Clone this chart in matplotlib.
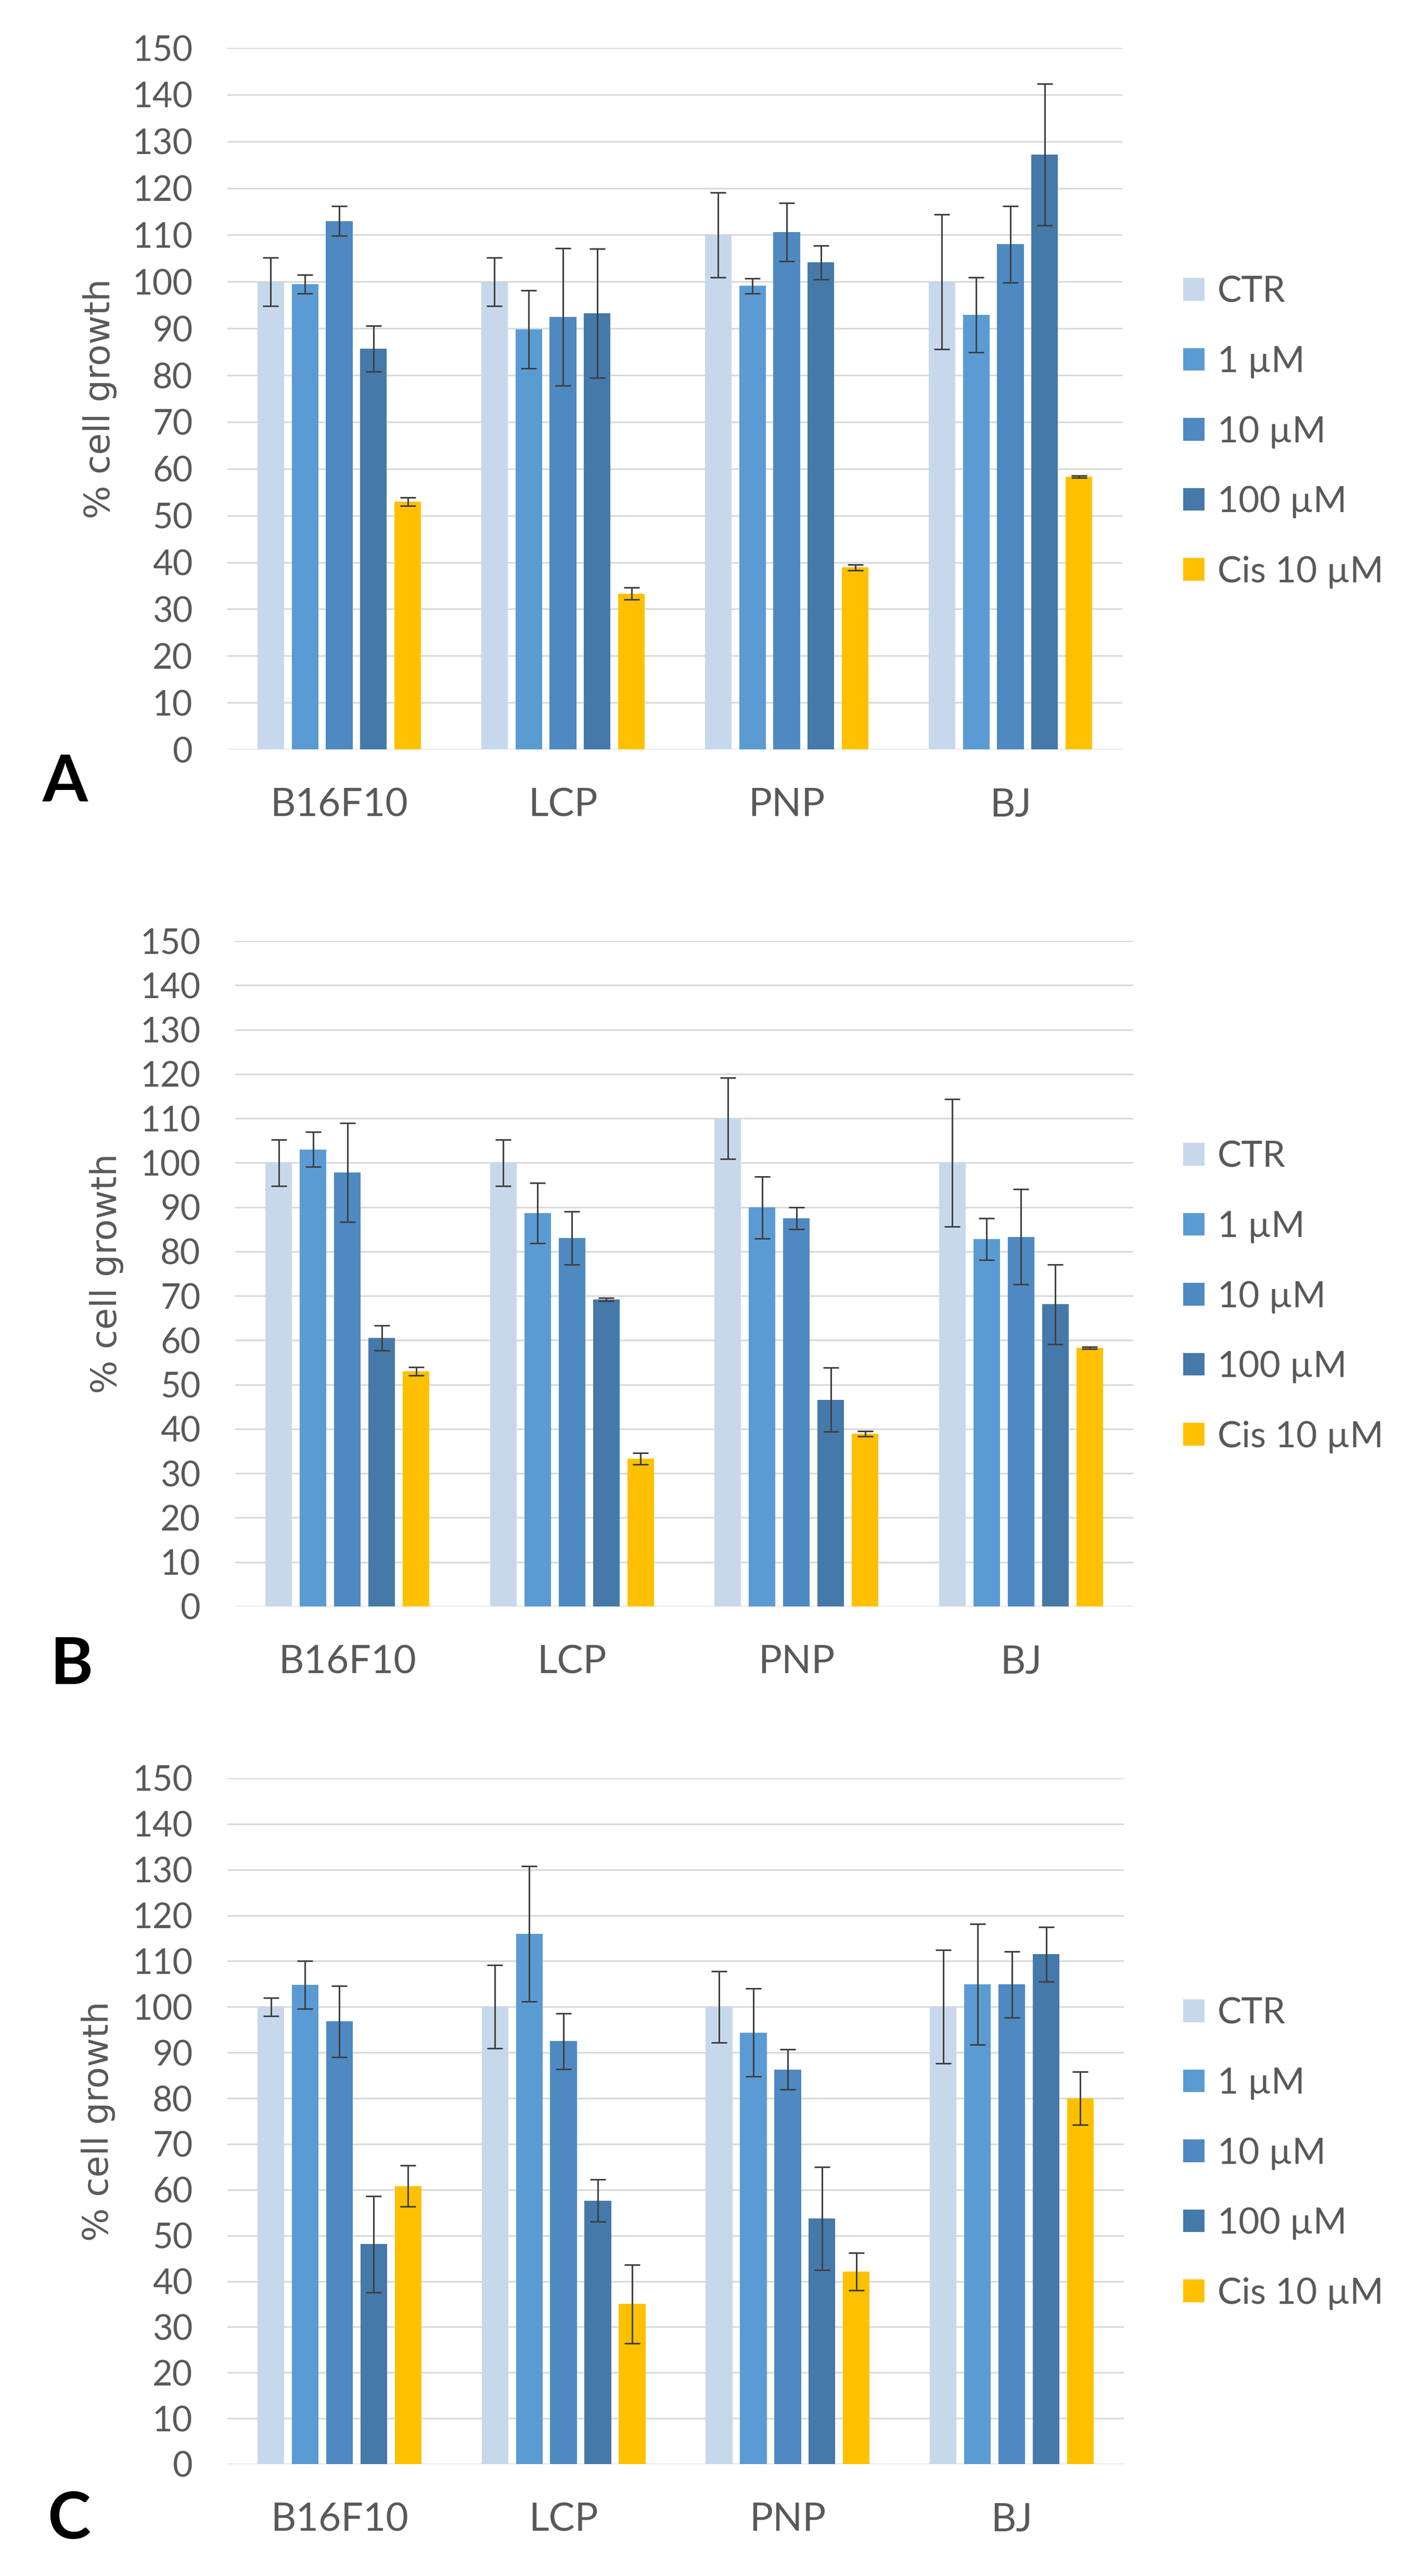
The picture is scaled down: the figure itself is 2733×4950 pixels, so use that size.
import numpy as np
import matplotlib
matplotlib.use("Agg")
import matplotlib.pyplot as plt
from matplotlib.patches import Patch

plt.rcParams['font.family'] = ['Lato', 'DejaVu Sans']

# categories / series
cells = ["B16F10", "LCP", "PNP", "BJ"]
series = ["CTR", "1 µM", "10 µM", "100 µM", "Cis 10 µM"]
colors = ["#c8d8ec", "#5b9bd3", "#4f89c1", "#4579a9", "#ffc000"]

# shared control / cisplatin (panels A and B)
ctr_ab = [100.0, 100.0, 110.0, 100.0]
ctr_ab_err = [5.2, 5.2, 9.1, 14.4]
cis_ab = [53.0, 33.3, 38.9, 58.3]
cis_ab_err = [0.9, 1.3, 0.6, 0.2]

# panel A
a_1um = [99.5, 89.8, 99.1, 92.9]
a_1um_err = [2.0, 8.3, 1.6, 8.0]
a_10um = [113.0, 92.5, 110.6, 108.0]
a_10um_err = [3.2, 14.7, 6.2, 8.2]
a_100um = [85.7, 93.2, 104.1, 127.2]
a_100um_err = [4.9, 13.8, 3.6, 15.1]

# panel B
b_1um = [103.0, 88.7, 89.9, 82.8]
b_1um_err = [3.9, 6.8, 7.0, 4.7]
b_10um = [97.8, 83.0, 87.5, 83.3]
b_10um_err = [11.1, 6.0, 2.5, 10.7]
b_100um = [60.5, 69.2, 46.6, 68.1]
b_100um_err = [2.8, 0.4, 7.2, 9.0]

# panel C
c_ctr = [100.0, 100.0, 100.0, 100.0]
c_ctr_err = [2.0, 9.1, 7.8, 12.4]
c_1um = [104.8, 116.0, 94.4, 104.9]
c_1um_err = [5.2, 14.8, 9.6, 13.2]
c_10um = [96.8, 92.5, 86.3, 104.9]
c_10um_err = [7.8, 6.1, 4.4, 7.2]
c_100um = [48.1, 57.6, 53.7, 111.5]
c_100um_err = [10.5, 4.6, 11.3, 6.0]
c_cis = [60.8, 35.0, 42.1, 80.0]
c_cis_err = [4.5, 8.6, 4.1, 5.8]

yticks = list(range(0, 151, 10))

W, H = 2733, 4950
fig = plt.figure(figsize=(W / 100, H / 100), dpi=100)

# panel boxes in pixels: left, top(150), right, bottom(0); letter pos, ylabel x, legend centre y
panels = [
    ("A", (437, 92, 2157, 1440), [ctr_ab, a_1um, a_10um, a_100um, cis_ab],
     [ctr_ab_err, a_1um_err, a_10um_err, a_100um_err, cis_ab_err], (125, 1504), 192, 830),
    ("B", (452, 1808, 2178, 3087), [ctr_ab, b_1um, b_10um, b_100um, cis_ab],
     [ctr_ab_err, b_1um_err, b_10um_err, b_100um_err, cis_ab_err], (138, 3200), 205, 2492),
    ("C", (437, 3417, 2160, 4735), [c_ctr, c_1um, c_10um, c_100um, c_cis],
     [c_ctr_err, c_1um_err, c_10um_err, c_100um_err, c_cis_err], (133, 4842), 189, 4138),
]

x = np.arange(len(cells))
pitch = 0.153
width = 0.119

for letter, (l, t, r, b), vals, errs, lpos, ylab_x, leg_c in panels:
    ax = fig.add_axes([l / W, 1 - b / H, (r - l) / W, (b - t) / H])
    for j, (v, e) in enumerate(zip(vals, errs)):
        ax.bar(x + (j - 2) * pitch, v, width, color=colors[j], label=series[j],
               zorder=3)
        ax.errorbar(x + (j - 2) * pitch, v, yerr=e, fmt='none', ecolor='#404040',
                    elinewidth=2.2, capsize=11, capthick=2.2, zorder=4)
    ax.set_xlim(-0.5, len(cells) - 0.5)
    ax.set_ylim(0, 150)
    ax.set_yticks(yticks)
    ax.set_xticks(x)
    ax.set_xticklabels(cells)
    ax.grid(axis='y', color='#d9d9d9', linewidth=2.2, zorder=0)
    ax.set_axisbelow(True)
    for s in ax.spines.values():
        s.set_visible(False)
    ax.tick_params(axis='y', length=0, pad=48, labelsize=48, labelcolor='#595959')
    ax.tick_params(axis='x', length=0, pad=52, labelsize=54, labelcolor='#595959')

    # % cell growth label
    fig.text(ylab_x / W, 1 - (t + b) / 2 / H, "% cell growth", rotation=90,
             ha='center', va='center', fontsize=49, color='#595959',
             family=['DejaVu Sans'])

    handles = [Patch(facecolor=c, label=s) for c, s in zip(colors, series)]
    ax.legend(handles=handles, loc='center left',
              bbox_to_anchor=((2274 - l) / (r - l), (b - leg_c) / (b - t)),
              frameon=False, fontsize=50, handlelength=0.59, handleheight=0.59,
              handletextpad=0.36, labelspacing=1.03, borderpad=0, borderaxespad=0,
              labelcolor='#595959')

    fig.text(lpos[0] / W, 1 - lpos[1] / H, letter, ha='center', va='center',
             fontsize=90, fontweight='bold', color='black')

fig.savefig("out.png", dpi=100)
